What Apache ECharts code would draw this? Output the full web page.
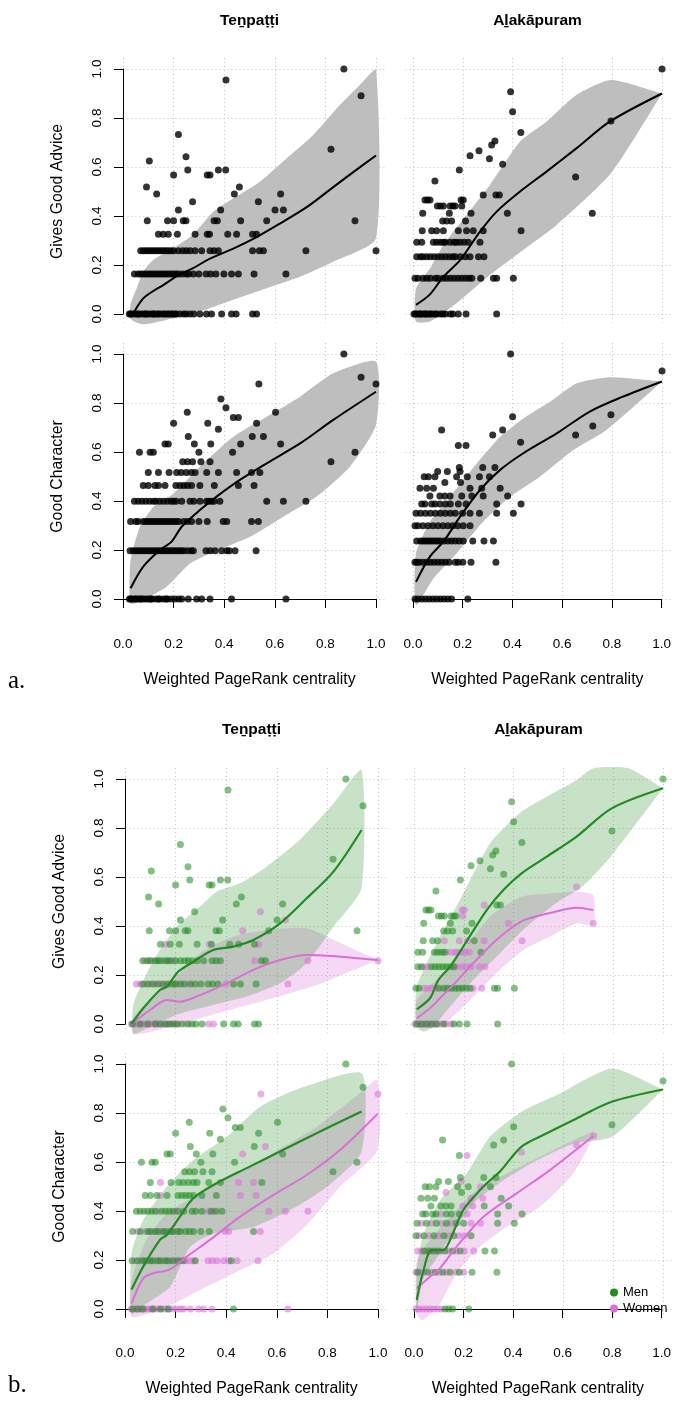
<!DOCTYPE html>
<html>
<head>
<meta charset="utf-8">
<script src="https://cdn.jsdelivr.net/npm/echarts@6/dist/echarts.min.js"></script>
<style>
html,body{margin:0;padding:0;background:#fff}
#chart{width:674px;height:1401px}
</style>
</head>
<body>
<div id="chart"></div>
<script>
// ---- tick labels / titles ----
const ticks = [0, 0.2, 0.4, 0.6, 0.8, 1.0];
const villages = ['Teṉpaṭṭi', 'Aḻakāpuram'];
const outcomes = ['Gives Good Advice', 'Good Character'];
const xTitle = 'Weighted PageRank centrality';

// ---- points: [y level, [x values]] ----
const tenAdviceMen = [
  [0, [0.03,0.06,0.09,0.12,0.14,0.16,0.175,0.19,0.205,0.225,0.25,0.265,0.28,0.304,0.39,0.429,0.447,0.512,0.528]],
  [0.163, [0.07,0.09,0.11,0.13,0.15,0.17,0.19,0.2,0.22,0.235,0.26,0.278,0.3,0.328,0.346,0.367,0.429,0.456,0.518]],
  [0.258, [0.07,0.09,0.1,0.12,0.13,0.14,0.16,0.17,0.18,0.2,0.219,0.236,0.25,0.265,0.285,0.311,0.344,0.36,0.377,0.539,0.555]],
  [0.326, [0.14,0.179,0.215,0.285,0.342,0.414,0.449,0.512]],
  [0.381, [0.096,0.176,0.2,0.238,0.249,0.36,0.373,0.568,0.917]],
  [0.424, [0.219,0.386,0.601]],
  [0.458, [0.275]],
  [0.49, [0.133,0.44,0.623]],
  [0.518, [0.093,0.46]],
  [0.567, [0.2,0.333,0.344]],
  [0.588, [0.256,0.377,0.406]],
  [0.624, [0.104]],
  [0.642, [0.249]],
  [0.672, [0.822]],
  [0.733, [0.219]],
  [0.891, [0.941]],
  [0.955, [0.407]],
  [1.0, [0.873]]
];
const tenAdviceWomen = [
  [0, [0.025,0.035,0.045,0.055,0.065,0.075,0.085,0.095,0.105,0.115,0.125,0.135,0.15,0.165,0.18,0.195,0.21,0.24,0.33,0.35]],
  [0.163, [0.045,0.06,0.08,0.1,0.12,0.14,0.16,0.18,0.21,0.25,0.399,0.644]],
  [0.258, [0.08,0.11,0.15,0.19,0.512,0.723,1.0]],
  [0.326, [0.159,0.333,0.528]],
  [0.381, [0.465]],
  [0.424, [0.634]],
  [0.458, [0.535]]
];
const alaAdviceMen = [
  [0, [0.01,0.03,0.05,0.07,0.09,0.12,0.16,0.182,0.213,0.336]],
  [0.146, [0.008,0.02,0.1,0.12,0.135,0.15,0.165,0.18,0.195,0.21,0.225,0.323,0.336,0.403]],
  [0.234, [0.015,0.03,0.07,0.085,0.1,0.115,0.13,0.145,0.16]],
  [0.293, [0.015,0.035,0.082,0.095,0.11,0.122,0.269]],
  [0.34, [0.037,0.075,0.095,0.242]],
  [0.38, [0.119,0.135,0.155,0.211]],
  [0.411, [0.039,0.146,0.233]],
  [0.441, [0.098,0.11,0.122,0.149,0.16,0.169]],
  [0.465, [0.048,0.058,0.068]],
  [0.486, [0.333,0.347]],
  [0.543, [0.088]],
  [0.588, [0.186]],
  [0.611, [0.36]],
  [0.634, [0.307]],
  [0.646, [0.229]],
  [0.666, [0.265]],
  [0.69, [0.316]],
  [0.706, [0.329]],
  [0.741, [0.433]],
  [0.788, [0.795]],
  [0.826, [0.4]],
  [0.907, [0.392]],
  [1.0, [1.0]]
];
const alaAdviceWomen = [
  [0, [0.004,0.015,0.025,0.035,0.045,0.055,0.065,0.08,0.095,0.11,0.13,0.15]],
  [0.146, [0.04,0.055,0.07,0.09,0.236,0.272]],
  [0.234, [0.04,0.055,0.17,0.19,0.21,0.229,0.263,0.285]],
  [0.293, [0.13,0.149,0.165,0.175,0.189,0.205,0.222]],
  [0.34, [0.122,0.182,0.215,0.282,0.434]],
  [0.411, [0.379,0.72]],
  [0.441, [0.196]],
  [0.465, [0.193,0.202]],
  [0.486, [0.282]],
  [0.559, [0.653]]
];
const tenCharMen = [
  [0, [0.03,0.05,0.07,0.11,0.14,0.17,0.429]],
  [0.197, [0.028,0.05,0.07,0.08,0.1,0.11,0.13,0.14,0.16,0.17,0.19,0.21,0.23,0.278,0.42]],
  [0.316, [0.03,0.06,0.09,0.1,0.12,0.13,0.15,0.16,0.18,0.19,0.21,0.22,0.24,0.255,0.271,0.3,0.333,0.508]],
  [0.399, [0.045,0.06,0.075,0.09,0.105,0.12,0.145,0.16,0.175,0.19,0.21,0.232,0.265,0.28,0.304,0.34,0.36,0.383]],
  [0.463, [0.08,0.1,0.126,0.166,0.209,0.225,0.24,0.255,0.271,0.304,0.361]],
  [0.516, [0.1,0.182,0.212,0.23,0.25,0.27,0.285,0.331,0.377,0.541]],
  [0.56, [0.236,0.255,0.275,0.308,0.344,0.822]],
  [0.599, [0.065,0.107,0.12,0.3,0.433,0.917]],
  [0.633, [0.166,0.179,0.282,0.347,0.623]],
  [0.663, [0.258,0.511]],
  [0.693, [0.377]],
  [0.717, [0.2,0.335,0.528]],
  [0.741, [0.436,0.456]],
  [0.762, [0.254,0.603]],
  [0.781, [0.407]],
  [0.816, [0.387]],
  [0.905, [0.941]],
  [1.0, [0.873]]
];
const tenCharWomen = [
  [0, [0.025,0.035,0.045,0.055,0.065,0.075,0.085,0.095,0.105,0.115,0.13,0.145,0.16,0.175,0.19,0.205,0.22,0.232,0.258,0.291,0.311,0.344,0.644]],
  [0.197, [0.04,0.06,0.09,0.12,0.15,0.18,0.2,0.22,0.24,0.255,0.27,0.328,0.345,0.364,0.39,0.41,0.443,0.526]],
  [0.316, [0.05,0.08,0.11,0.14,0.17,0.2,0.396,0.41,0.535]],
  [0.399, [0.13,0.2,0.33,0.35,0.568,0.634,0.723]],
  [0.463, [0.14,0.456,0.518]],
  [0.516, [0.14,0.449,0.508]],
  [0.633, [0.465]],
  [0.663, [0.555]],
  [0.878, [0.537,1.0]]
];
const alaCharMen = [
  [0, [0.125,0.14,0.155,0.22]],
  [0.15, [0.015,0.055,0.085,0.115,0.145,0.182,0.233,0.333]],
  [0.237, [0.04,0.06,0.08,0.1,0.125,0.155,0.185,0.285,0.323]],
  [0.299, [0.008,0.04,0.08,0.12,0.16,0.229]],
  [0.35, [0.012,0.05,0.09,0.13,0.17,0.199,0.336,0.403]],
  [0.388, [0.035,0.048,0.075,0.088,0.13,0.15,0.182,0.336,0.434]],
  [0.42, [0.068,0.108,0.128,0.149,0.282,0.38]],
  [0.452, [0.028,0.055,0.082,0.35]],
  [0.476, [0.191]],
  [0.499, [0.045,0.062,0.088,0.175,0.218,0.307]],
  [0.52, [0.099,0.138]],
  [0.537, [0.186,0.28,0.329]],
  [0.627, [0.182]],
  [0.669, [0.32]],
  [0.69, [0.115,0.36]],
  [0.744, [0.4]],
  [0.752, [0.795]],
  [0.931, [1.0]],
  [1.0, [0.392]]
];
const alaCharWomen = [
  [0, [0.008,0.02,0.035,0.05,0.065,0.08,0.095,0.11]],
  [0.15, [0.008,0.025,0.04,0.07,0.1,0.13,0.17,0.2]],
  [0.237, [0.015,0.03,0.05,0.07,0.09,0.11,0.14,0.17,0.202,0.24]],
  [0.299, [0.02,0.06,0.1,0.14,0.18,0.202]],
  [0.35, [0.03,0.07,0.11,0.15,0.229,0.267]],
  [0.388, [0.108,0.213]],
  [0.42, [0.196,0.236]],
  [0.452, [0.229,0.276]],
  [0.476, [0.128]],
  [0.499, [0.267]],
  [0.52, [0.189]],
  [0.627, [0.213]],
  [0.64, [0.432]],
  [0.669, [0.653]],
  [0.706, [0.722]]
];

// ---- fitted curves and bands, part a (everyone) ----
const tenAdviceFit = [[0.041,0.003],[0.08,0.064],[0.126,0.098],[0.159,0.118],[0.219,0.159],[0.275,0.186],[0.344,0.226],[0.436,0.267],[0.528,0.314],[0.62,0.369],[0.726,0.436],[0.831,0.518],[0.91,0.579],[1.0,0.647]];
const tenAdviceUpper = [[0.03,0.04],[0.054,0.105],[0.08,0.173],[0.119,0.22],[0.198,0.268],[0.275,0.322],[0.357,0.417],[0.436,0.472],[0.541,0.54],[0.646,0.635],[0.752,0.731],[0.857,0.853],[0.936,0.935],[1.0,0.996]];
const tenAdviceLower = [[0.03,-0.02],[0.08,-0.042],[0.172,-0.024],[0.304,0.01],[0.436,0.058],[0.568,0.105],[0.7,0.152],[0.831,0.213],[1.0,0.309]];
const alaAdviceFit = [[0.012,0.037],[0.068,0.08],[0.122,0.152],[0.189,0.22],[0.269,0.336],[0.336,0.418],[0.43,0.5],[0.536,0.581],[0.656,0.676],[0.79,0.785],[1.0,0.9]];
const alaAdviceUpper = [[0.012,0.104],[0.068,0.186],[0.122,0.282],[0.215,0.404],[0.309,0.527],[0.43,0.704],[0.536,0.785],[0.656,0.894],[0.795,0.955],[1.0,0.9]];
const alaAdviceLower = [[0.012,-0.031],[0.068,-0.031],[0.175,0.044],[0.309,0.159],[0.443,0.261],[0.577,0.363],[0.795,0.574],[1.0,0.9]];
const tenCharFit = [[0.03,0.044],[0.08,0.132],[0.146,0.2],[0.192,0.234],[0.232,0.295],[0.304,0.363],[0.37,0.418],[0.462,0.486],[0.568,0.554],[0.7,0.635],[0.831,0.731],[1.0,0.846]];
const tenCharUpper = [[0.03,0.159],[0.067,0.295],[0.12,0.376],[0.2,0.431],[0.304,0.54],[0.436,0.662],[0.568,0.744],[0.7,0.826],[0.831,0.921],[1.0,0.969]];
const tenCharLower = [[0.03,-0.018],[0.08,-0.004],[0.172,0.05],[0.265,0.145],[0.344,0.186],[0.502,0.254],[0.634,0.336],[0.765,0.418],[0.897,0.54],[1.0,0.71]];
const alaCharFit = [[0.012,0.07],[0.068,0.173],[0.122,0.234],[0.189,0.336],[0.269,0.445],[0.35,0.527],[0.443,0.595],[0.577,0.676],[0.71,0.765],[0.843,0.826],[1.0,0.888]];
const alaCharUpper = [[0.012,0.186],[0.068,0.315],[0.149,0.417],[0.256,0.553],[0.35,0.662],[0.443,0.737],[0.55,0.805],[0.656,0.88],[0.79,0.905],[1.0,0.888]];
const alaCharLower = [[0.012,-0.025],[0.082,0.084],[0.175,0.186],[0.282,0.315],[0.39,0.417],[0.51,0.499],[0.644,0.608],[0.777,0.69],[1.0,0.888]];

// ---- fitted curves and bands, part b (men / women) ----
const tenAdviceMenFit = [[0.026,0],[0.072,0.064],[0.138,0.139],[0.165,0.152],[0.211,0.214],[0.27,0.254],[0.349,0.302],[0.428,0.316],[0.507,0.343],[0.613,0.411],[0.718,0.513],[0.824,0.622],[0.935,0.792]];
const tenAdviceMenUpper = [[0.033,0.078],[0.086,0.207],[0.138,0.302],[0.217,0.411],[0.296,0.479],[0.362,0.54],[0.454,0.574],[0.559,0.642],[0.69,0.751],[0.824,0.9],[0.935,1.036]];
const tenAdviceMenLower = [[0.033,-0.038],[0.099,-0.011],[0.217,0.043],[0.349,0.078],[0.481,0.112],[0.613,0.166],[0.718,0.248],[0.824,0.397],[0.935,0.554]];
const tenAdviceWomenFit = [[0.026,0],[0.099,0.057],[0.165,0.098],[0.217,0.091],[0.296,0.118],[0.402,0.166],[0.507,0.221],[0.613,0.261],[0.718,0.282],[1.0,0.261]];
const tenAdviceWomenUpper = [[0.03,0.02],[0.046,0.043],[0.112,0.112],[0.191,0.18],[0.296,0.288],[0.428,0.357],[0.559,0.384],[0.718,0.391],[0.824,0.343],[1.0,0.261]];
const tenAdviceWomenLower = [[0.033,-0.042],[0.165,-0.015],[0.362,0.043],[0.559,0.098],[0.757,0.159],[1.0,0.261]];
const alaAdviceMenFit = [[0.011,0.06],[0.064,0.105],[0.098,0.18],[0.145,0.234],[0.198,0.316],[0.292,0.465],[0.359,0.547],[0.432,0.615],[0.533,0.683],[0.653,0.765],[0.794,0.88],[1.0,0.962]];
const alaAdviceMenUpper = [[0.011,0.152],[0.104,0.356],[0.198,0.533],[0.305,0.737],[0.432,0.867],[0.533,0.928],[0.653,0.996],[0.72,1.044],[0.861,1.044],[1.0,0.962]];
const alaAdviceMenLower = [[0.011,-0.011],[0.038,-0.031],[0.078,-0.011],[0.145,0.071],[0.238,0.18],[0.345,0.289],[0.452,0.397],[0.57,0.493],[0.676,0.561],[0.79,0.683],[1.0,0.962]];
const alaAdviceWomenFit = [[0.011,0.023],[0.064,0.064],[0.104,0.105],[0.163,0.166],[0.238,0.248],[0.332,0.344],[0.432,0.419],[0.546,0.453],[0.653,0.475],[0.72,0.465]];
const alaAdviceWomenUpper = [[0.011,0.098],[0.104,0.193],[0.198,0.302],[0.305,0.438],[0.432,0.52],[0.546,0.533],[0.653,0.54],[0.72,0.526]];
const alaAdviceWomenLower = [[0.011,-0.011],[0.104,-0.011],[0.185,0.057],[0.265,0.139],[0.345,0.221],[0.439,0.302],[0.546,0.357],[0.653,0.411],[0.72,0.404]];
const tenCharMenFit = [[0.026,0.08],[0.072,0.173],[0.138,0.282],[0.165,0.302],[0.217,0.377],[0.27,0.452],[0.362,0.513],[0.481,0.575],[0.626,0.65],[0.797,0.738],[0.935,0.806]];
const tenCharMenUpper = [[0.026,0.227],[0.072,0.363],[0.165,0.499],[0.27,0.608],[0.402,0.703],[0.534,0.826],[0.692,0.901],[0.935,0.962]];
const tenCharMenLower = [[0.026,-0.019],[0.085,0.022],[0.178,0.09],[0.257,0.253],[0.349,0.308],[0.507,0.335],[0.652,0.403],[0.797,0.498],[0.935,0.642]];
const tenCharWomenFit = [[0.026,0.023],[0.072,0.125],[0.112,0.146],[0.178,0.162],[0.244,0.214],[0.336,0.282],[0.455,0.377],[0.586,0.465],[0.718,0.547],[0.85,0.649],[0.998,0.796]];
const tenCharWomenUpper = [[0.026,0.118],[0.085,0.282],[0.165,0.39],[0.27,0.458],[0.375,0.526],[0.494,0.58],[0.626,0.662],[0.758,0.744],[0.935,0.887],[0.998,0.935]];
const tenCharWomenLower = [[0.026,-0.032],[0.165,0.009],[0.296,0.077],[0.455,0.158],[0.586,0.226],[0.718,0.343],[0.85,0.499],[0.998,0.649]];
const alaCharMenFit = [[0.011,0.037],[0.035,0.145],[0.071,0.24],[0.118,0.24],[0.145,0.282],[0.198,0.404],[0.278,0.499],[0.345,0.561],[0.432,0.663],[0.533,0.717],[0.653,0.778],[0.794,0.846],[1.0,0.896]];
const alaCharMenUpper = [[0.011,0.159],[0.035,0.295],[0.104,0.444],[0.211,0.553],[0.305,0.703],[0.432,0.805],[0.573,0.873],[0.794,0.982],[1.0,0.896]];
const alaCharMenLower = [[0.011,-0.019],[0.035,0.118],[0.104,0.227],[0.171,0.335],[0.251,0.444],[0.359,0.526],[0.493,0.607],[0.64,0.675],[0.794,0.702],[1.0,0.896]];
const alaCharWomenFit = [[0.011,0.084],[0.064,0.132],[0.098,0.159],[0.171,0.254],[0.278,0.376],[0.412,0.472],[0.546,0.567],[0.72,0.706]];
const alaCharWomenUpper = [[0.011,0.2],[0.064,0.282],[0.145,0.377],[0.251,0.486],[0.372,0.553],[0.506,0.621],[0.64,0.689],[0.72,0.723]];
const alaCharWomenLower = [[0.011,-0.02],[0.035,-0.046],[0.104,0.022],[0.171,0.145],[0.265,0.254],[0.372,0.335],[0.506,0.417],[0.64,0.553],[0.72,0.703]];

// ---- layout (pixel position of 0 and 1 on each axis) ----
const layout = {
  a: { cols: [[123, 376], [413, 662]], rows: [[69, 314], [354, 599]], xOff: 11, titleY: 21, tagY: 681 },
  b: { cols: [[125, 378], [414, 663]], rows: [[779, 1024], [1064, 1309]], xOff: 10, titleY: 730, tagY: 1385 }
};
const X_MIN = -0.03, X_MAX = 1.035, Y_MIN = -0.035, Y_MAX = 1.045;
const FONT = 'Liberation Sans, DejaVu Sans, Arial, sans-serif';
const GREEN = '#228B22', PINK = '#DA70D6';

const panels = [
  { block: 'a', r: 0, c: 0, men: tenAdviceMen, women: tenAdviceWomen, fit: tenAdviceFit, up: tenAdviceUpper, lo: tenAdviceLower },
  { block: 'a', r: 0, c: 1, men: alaAdviceMen, women: alaAdviceWomen, fit: alaAdviceFit, up: alaAdviceUpper, lo: alaAdviceLower },
  { block: 'a', r: 1, c: 0, men: tenCharMen, women: tenCharWomen, fit: tenCharFit, up: tenCharUpper, lo: tenCharLower },
  { block: 'a', r: 1, c: 1, men: alaCharMen, women: alaCharWomen, fit: alaCharFit, up: alaCharUpper, lo: alaCharLower },
  { block: 'b', r: 0, c: 0, men: tenAdviceMen, women: tenAdviceWomen,
    mFit: tenAdviceMenFit, mUp: tenAdviceMenUpper, mLo: tenAdviceMenLower,
    wFit: tenAdviceWomenFit, wUp: tenAdviceWomenUpper, wLo: tenAdviceWomenLower },
  { block: 'b', r: 0, c: 1, men: alaAdviceMen, women: alaAdviceWomen,
    mFit: alaAdviceMenFit, mUp: alaAdviceMenUpper, mLo: alaAdviceMenLower,
    wFit: alaAdviceWomenFit, wUp: alaAdviceWomenUpper, wLo: alaAdviceWomenLower },
  { block: 'b', r: 1, c: 0, men: tenCharMen, women: tenCharWomen,
    mFit: tenCharMenFit, mUp: tenCharMenUpper, mLo: tenCharMenLower,
    wFit: tenCharWomenFit, wUp: tenCharWomenUpper, wLo: tenCharWomenLower },
  { block: 'b', r: 1, c: 1, men: alaCharMen, women: alaCharWomen,
    mFit: alaCharMenFit, mUp: alaCharMenUpper, mLo: alaCharMenLower,
    wFit: alaCharWomenFit, wUp: alaCharWomenUpper, wLo: alaCharWomenLower }
];

function points(rows) {
  const out = [];
  rows.forEach(([y, xs]) => xs.forEach(x => out.push([x, y])));
  return out;
}

function band(upper, lower, color, ai) {
  const poly = upper.concat(lower.slice().reverse());
  return {
    type: 'custom', xAxisIndex: ai, yAxisIndex: ai, data: poly, silent: true, clip: false,
    renderItem(params, api) {
      if (params.dataIndex !== 0) return null;
      return {
        type: 'polygon',
        shape: { points: poly.map(p => api.coord(p)), smooth: 0.2 },
        style: { fill: color }
      };
    }
  };
}
function fitLine(data, color, ai, w) {
  return {
    type: 'line', xAxisIndex: ai, yAxisIndex: ai, data: data, showSymbol: false, smooth: 0.3,
    silent: true, clip: false, lineStyle: { color: color, width: w || 2 }, itemStyle: { color: color }
  };
}
function dots(name, rows, color, ai) {
  return {
    type: 'scatter', name: name, xAxisIndex: ai, yAxisIndex: ai, data: points(rows),
    symbolSize: 7, silent: true, clip: false, itemStyle: { color: color }
  };
}

const grids = [], xAxes = [], yAxes = [], series = [], graphics = [];

panels.forEach(p => {
  const L = layout[p.block];
  const [x0, x1] = L.cols[p.c];
  const [yT, yB] = L.rows[p.r];
  const W = x1 - x0, H = yB - yT;
  const di = grids.length;
  // plot region with the dotted reference grid
  grids.push({ left: x0 + X_MIN * W, top: yT - (Y_MAX - 1) * H, width: (X_MAX - X_MIN) * W, height: (Y_MAX - Y_MIN) * H });
  const hidden = {
    axisLine: { show: false }, axisTick: { show: false, customValues: ticks },
    axisLabel: { show: false, customValues: ticks },
    splitLine: { show: true, lineStyle: { color: '#c4c4c4', width: 1, type: [1, 3] } }
  };
  xAxes.push(Object.assign({ gridIndex: di, type: 'value', min: X_MIN, max: X_MAX }, hidden));
  yAxes.push(Object.assign({ gridIndex: di, type: 'value', min: Y_MIN, max: Y_MAX }, hidden));

  // R style axes spanning exactly 0..1
  const ai = grids.length;
  grids.push({ left: x0, top: yT, width: W, height: H });
  const bottom = p.r === 1, left = p.c === 0;
  xAxes.push({
    gridIndex: ai, type: 'value', min: 0, max: 1, interval: 0.2, show: bottom, position: 'bottom', offset: L.xOff,
    axisLine: { show: true, lineStyle: { color: '#000', width: 1 } },
    axisTick: { show: true, length: 9, lineStyle: { color: '#000', width: 1 } },
    axisLabel: { color: '#000', fontSize: 13.5, fontFamily: FONT, margin: 27, formatter: v => v.toFixed(1) },
    splitLine: { show: false },
    name: xTitle, nameLocation: 'middle', nameGap: 62,
    nameTextStyle: { color: '#000', fontSize: 15.8, fontFamily: FONT }
  });
  yAxes.push({
    gridIndex: ai, type: 'value', min: 0, max: 1, interval: 0.2, show: left, position: 'left', offset: 2,
    axisLine: { show: true, lineStyle: { color: '#000', width: 1 } },
    axisTick: { show: true, length: 9, lineStyle: { color: '#000', width: 1 } },
    axisLabel: { color: '#000', fontSize: 13.5, fontFamily: FONT, margin: 17, rotate: 90, formatter: v => v.toFixed(1) },
    splitLine: { show: false },
    name: outcomes[p.r], nameLocation: 'middle', nameGap: 55, nameRotate: 90,
    nameTextStyle: { color: '#000', fontSize: 15.8, fontFamily: FONT }
  });

  if (p.block === 'a') {
    series.push(band(p.up, p.lo, '#bebebe', di));
    series.push(fitLine(p.fit, '#000', di, 2));
    series.push(dots('all', p.men.concat(p.women), '#000', di));
  } else {
    series.push(band(p.wUp, p.wLo, 'rgba(218,112,214,0.27)', di));
    series.push(fitLine(p.wFit, PINK, di, 2));
    series.push(dots('Women', p.women, 'rgba(218,112,214,0.7)', di));
    series.push(band(p.mUp, p.mLo, 'rgba(34,139,34,0.25)', di));
    series.push(fitLine(p.mFit, GREEN, di, 2.2));
    series.push(dots('Men', p.men, 'rgba(34,139,34,0.7)', di));
  }
});

['a', 'b'].forEach(k => {
  const L = layout[k];
  L.cols.forEach((col, c) => {
    graphics.push({
      type: 'text', x: (col[0] + col[1]) / 2, y: L.titleY, silent: true,
      style: { text: villages[c], font: 'bold 15.5px ' + FONT, fill: '#000',
               textAlign: 'center', textVerticalAlign: 'middle', align: 'center', verticalAlign: 'middle' }
    });
  });
  graphics.push({
    type: 'text', x: 8, y: L.tagY, silent: true,
    style: { text: k + '.', font: '25px Liberation Serif, DejaVu Serif, serif', fill: '#000',
             textAlign: 'left', textVerticalAlign: 'middle', align: 'left', verticalAlign: 'middle' }
  });
});

const chart = echarts.init(document.getElementById('chart'));
chart.setOption({
  animation: false,
  backgroundColor: '#fff',
  grid: grids,
  xAxis: xAxes,
  yAxis: yAxes,
  series: series,
  graphic: graphics,
  legend: {
    data: [
      { name: 'Men', itemStyle: { color: GREEN, opacity: 1 } },
      { name: 'Women', itemStyle: { color: PINK, opacity: 1 } }
    ],
    orient: 'vertical', left: 605, top: 1281, icon: 'circle', itemWidth: 8, itemHeight: 8, itemGap: 3,
    selectedMode: false, textStyle: { color: '#000', fontSize: 13, fontFamily: FONT }
  }
});
window.addEventListener('resize', () => chart.resize());
</script>
</body>
</html>
